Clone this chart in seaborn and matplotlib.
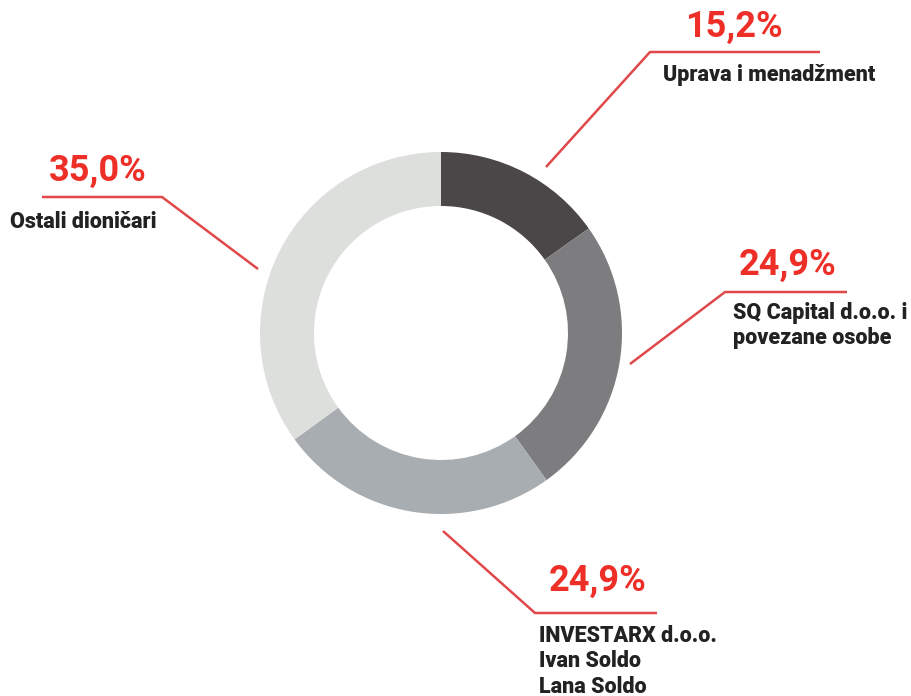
import seaborn as sns
import matplotlib.pyplot as plt

# ownership shares, clockwise from 12 o'clock
holders = ["Uprava i menadžment",
           "SQ Capital d.o.o. i\npovezane osobe",
           "INVESTARX d.o.o.\nIvan Soldo\nLana Soldo",
           "Ostali dioničari"]
shares = [15.2, 24.9, 24.9, 35.0]
share_labels = ["15,2%", "24,9%", "24,9%", "35,0%"]
colors = ["#4b4647", "#7d7d7f", "#a7adb1", "#dddfdd"]

sns.set_theme(style="white")
plt.rcParams["font.family"] = ["Roboto", "DejaVu Sans"]

W, H = 912, 696
fig = plt.figure(figsize=(W / 100, H / 100), dpi=100)
ax = fig.add_axes([0, 0, 1, 1])

ax.pie(shares, colors=colors, radius=181, center=(441, H - 333),
       startangle=90, counterclock=False,
       wedgeprops=dict(width=54, linewidth=0))

# pie() resets the limits, so set the pixel frame afterwards
ax.set_xlim(0, W)
ax.set_ylim(0, H)
ax.set_aspect("equal")
ax.axis("off")

RED = "#ee2f28"
LINE = "#e0484a"

# leader line (start, corner, end), value text centre, label anchor
callouts = [
    ((546, 167), (650, 52), (820, 52), (734, 27), (663, 64)),
    ((630, 364), (725, 292), (847, 292), (788, 265), (733, 302)),
    ((443, 531), (535, 613), (657, 613), (598, 581), (539, 625)),
    ((258, 269), (162, 197), (42, 197), (98, 171), (10, 211)),
]

for (p0, p1, p2, vpos, lpos), lab, val in zip(callouts, holders, share_labels):
    xs = [p0[0], p1[0], p2[0]]
    ys = [H - p0[1], H - p1[1], H - p2[1]]
    ax.plot(xs, ys, color=LINE, lw=1.8, solid_capstyle="butt")
    ax.text(vpos[0], H - vpos[1], val, color=RED, fontsize=26,
            fontweight="bold", ha="center", va="center")
    ax.text(lpos[0], H - lpos[1], lab, color="#222222", fontsize=15.5,
            fontweight="black", ha="left", va="top", linespacing=1.2)

fig.savefig("out.png", dpi=100, facecolor="white")
